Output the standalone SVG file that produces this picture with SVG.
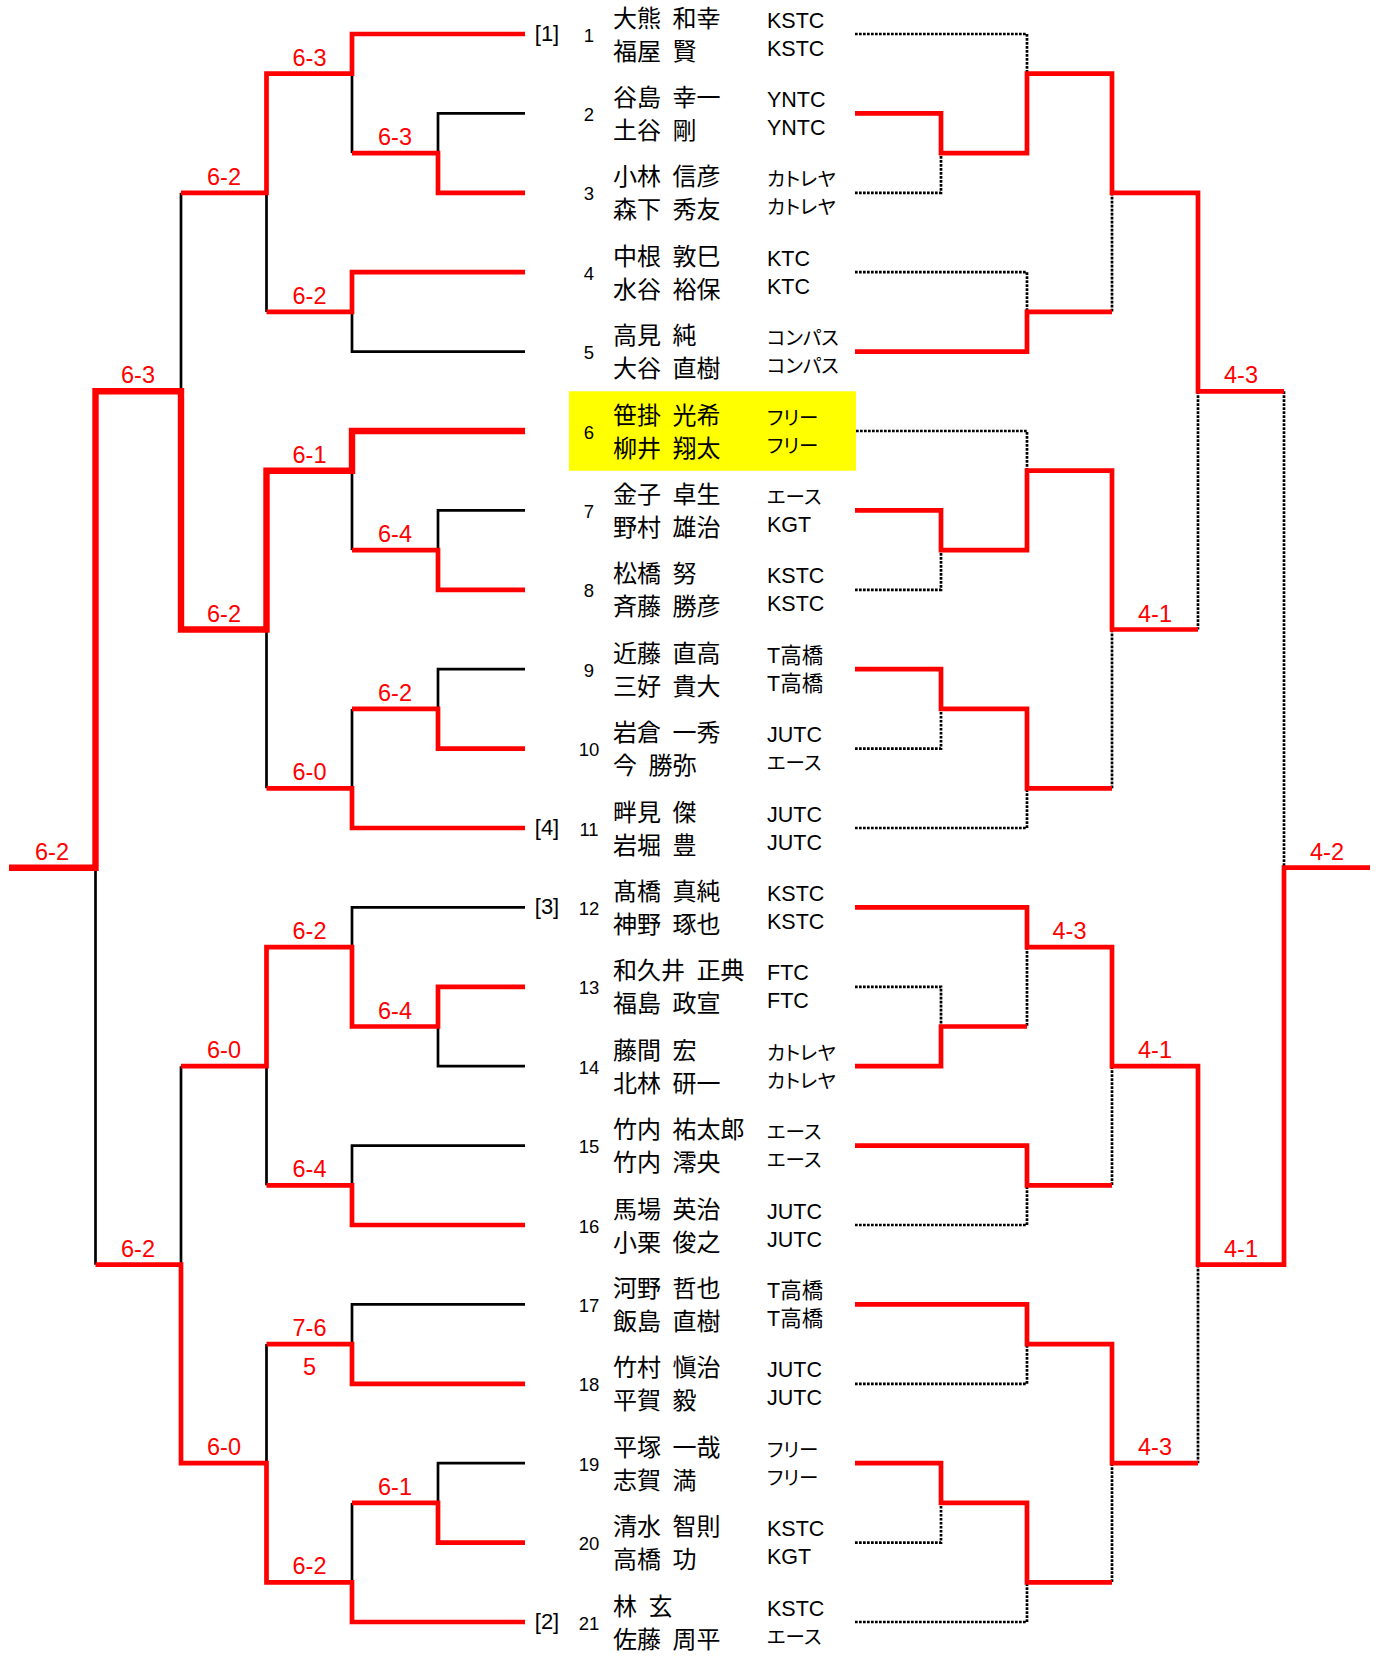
<svg xmlns="http://www.w3.org/2000/svg" width="1378" height="1656" viewBox="0 0 1378 1656">
<style>
.k{fill:none;stroke:#000;stroke-width:2.7}
.d{fill:none;stroke:#000;stroke-width:2.7;stroke-dasharray:2.7 1.3}
.r{fill:none;stroke:#FF0000;stroke-width:4.7}
.w{fill:none;stroke:#FF0000;stroke-width:6.4}
.s{font-family:"Liberation Sans",sans-serif;font-size:23.5px;fill:#FF0000;text-anchor:middle}
.num{font-family:"Liberation Sans",sans-serif;font-size:18.5px;text-anchor:middle;fill:#000}
.seed{font-family:"Liberation Sans",sans-serif;font-size:22px;text-anchor:middle;fill:#000}
.nm{font-family:"Noto Sans CJK JP",sans-serif;font-size:24px;word-spacing:6px;fill:#000}
.cl{font-family:"Liberation Sans","Noto Sans CJK JP",sans-serif;font-size:21.5px;fill:#000}
.kn{font-family:"Noto Sans CJK JP",sans-serif;font-size:19.5px;font-feature-settings:"palt";fill:#000}
</style>
<rect x="0" y="0" width="1378" height="1656" fill="#FFFFFF"/>
<rect id="highlight" x="569" y="391.3" width="287" height="79.4" fill="#FFFF00"/>

<g id="connectors">
<g id="black">
<path class="k" d="M525,113.4 H438 V153.1"/>
<path class="k" d="M352,73.7 V153.1"/>
<path class="k" d="M266.5,192.8 V311.9"/>
<path class="k" d="M525,351.6 H352 V311.9"/>
<path class="k" d="M181,192.8 V391.3"/>
<path class="k" d="M352,470.7 V550.1"/>
<path class="k" d="M525,510.4 H438 V550.1"/>
<path class="k" d="M266.5,629.5 V788.3"/>
<path class="k" d="M525,669.2 H438 V708.9"/>
<path class="k" d="M352,708.9 V788.3"/>
<path class="k" d="M95.5,867.7 V1264.7"/>
<path class="k" d="M525,907.4 H352 V947.1"/>
<path class="k" d="M525,1066.2 H438 V1026.5"/>
<path class="k" d="M266.5,1066.2 V1185.3"/>
<path class="k" d="M525,1145.6 H352 V1185.3"/>
<path class="k" d="M181,1066.2 V1264.7"/>
<path class="k" d="M525,1304.4 H352 V1344.1"/>
<path class="k" d="M266.5,1344.1 V1463.2"/>
<path class="k" d="M525,1463.2 H438 V1502.9"/>
<path class="k" d="M352,1502.9 V1582.3"/>
</g>
<g id="dotted">
<path class="d" d="M855,34 H1027 V73.7"/>
<path class="d" d="M855,192.8 H941 V153.1"/>
<path class="d" d="M855,272.2 H1027 V311.9"/>
<path class="d" d="M1112,192.8 V311.9"/>
<path class="d" d="M1198,391.3 V629.5"/>
<path class="d" d="M1284,391.3 V867.7"/>
<path class="d" d="M856,431 H1027 V470.7"/>
<path class="d" d="M855,589.8 H941 V550.1"/>
<path class="d" d="M855,748.6 H941 V708.9"/>
<path class="d" d="M855,828 H1027 V788.3"/>
<path class="d" d="M1112,629.5 V788.3"/>
<path class="d" d="M1027,947.1 V1026.5"/>
<path class="d" d="M855,986.8 H941 V1026.5"/>
<path class="d" d="M1112,1066.2 V1185.3"/>
<path class="d" d="M855,1225 H1027 V1185.3"/>
<path class="d" d="M1198,1264.7 V1463.2"/>
<path class="d" d="M855,1383.8 H1027 V1344.1"/>
<path class="d" d="M855,1542.6 H941 V1502.9"/>
<path class="d" d="M1112,1463.2 V1582.3"/>
<path class="d" d="M855,1622 H1027 V1582.3"/>
</g>
<g id="red">
<path class="r" d="M525,34 H352 V73.7 H266.5 V192.8 H181"/>
<path class="r" d="M525,192.8 H438 V153.1 H352"/>
<path class="r" d="M525,272.2 H352 V311.9 H266.5"/>
<path class="r" d="M525,589.8 H438 V550.1 H352"/>
<path class="r" d="M525,748.6 H438 V708.9 H352"/>
<path class="r" d="M525,828 H352 V788.3 H266.5"/>
<path class="r" d="M525,986.8 H438 V1026.5 H352 V947.1 H266.5 V1066.2 H181"/>
<path class="r" d="M525,1225 H352 V1185.3 H266.5"/>
<path class="r" d="M525,1383.8 H352 V1344.1 H266.5"/>
<path class="r" d="M525,1542.6 H438 V1502.9 H352"/>
<path class="r" d="M525,1622 H352 V1582.3 H266.5 V1463.2 H181 V1264.7 H95.5"/>
<path class="w" d="M525,431 H352 V470.7 H266.5 V629.5 H181 V391.3 H95.5 V867.7 H9"/>
<path class="r" d="M855,113.4 H941 V153.1 H1027 V73.7 H1112 V192.8 H1198 V391.3 H1284"/>
<path class="r" d="M855,351.6 H1027 V311.9 H1112"/>
<path class="r" d="M855,510.4 H941 V550.1 H1027 V470.7 H1112 V629.5 H1198"/>
<path class="r" d="M855,669.2 H941 V708.9 H1027 V788.3 H1112"/>
<path class="r" d="M855,907.4 H1027 V947.1 H1112 V1066.2 H1198 V1264.7 H1284 V867.7 H1370"/>
<path class="r" d="M855,1066.2 H941 V1026.5 H1027"/>
<path class="r" d="M855,1145.6 H1027 V1185.3 H1112"/>
<path class="r" d="M855,1304.4 H1027 V1344.1 H1112 V1463.2 H1198"/>
<path class="r" d="M855,1463.2 H941 V1502.9 H1027 V1582.3 H1112"/>
</g>
</g>

<g id="scores">
<text class="s" x="309.5" y="65.7">6-3</text>
<text class="s" x="395" y="145.1">6-3</text>
<text class="s" x="224" y="184.8">6-2</text>
<text class="s" x="309.5" y="303.9">6-2</text>
<text class="s" x="138" y="383.3">6-3</text>
<text class="s" x="309.5" y="462.7">6-1</text>
<text class="s" x="395" y="542.1">6-4</text>
<text class="s" x="224" y="621.5">6-2</text>
<text class="s" x="395" y="700.9">6-2</text>
<text class="s" x="309.5" y="780.3">6-0</text>
<text class="s" x="52" y="859.7">6-2</text>
<text class="s" x="309.5" y="939.1">6-2</text>
<text class="s" x="395" y="1018.5">6-4</text>
<text class="s" x="224" y="1058.2">6-0</text>
<text class="s" x="309.5" y="1177.3">6-4</text>
<text class="s" x="138" y="1256.7">6-2</text>
<text class="s" x="309.5" y="1336.1">7-6</text>
<text class="s" x="309.5" y="1375">5</text>
<text class="s" x="224" y="1455.2">6-0</text>
<text class="s" x="395" y="1494.9">6-1</text>
<text class="s" x="309.5" y="1574.3">6-2</text>
<text class="s" x="1241" y="383.3">4-3</text>
<text class="s" x="1155" y="621.5">4-1</text>
<text class="s" x="1327" y="859.7">4-2</text>
<text class="s" x="1069.5" y="939.1">4-3</text>
<text class="s" x="1155" y="1058.2">4-1</text>
<text class="s" x="1241" y="1256.7">4-1</text>
<text class="s" x="1155" y="1455.2">4-3</text>
</g>

<g id="p1"><text class="seed" x="547" y="40.5">[1]</text><text class="num" x="589" y="41.5">1</text><text class="nm" x="613" y="26.5">大熊 和幸</text><text class="nm" x="613" y="59.5">福屋 賢</text><text class="cl" x="767" y="27.5">KSTC</text><text class="cl" x="767" y="55.5">KSTC</text></g>
<g id="p2"><text class="num" x="589" y="120.9">2</text><text class="nm" x="613" y="105.9">谷島 幸一</text><text class="nm" x="613" y="138.9">土谷 剛</text><text class="cl" x="767" y="106.9">YNTC</text><text class="cl" x="767" y="134.9">YNTC</text></g>
<g id="p3"><text class="num" x="589" y="200.3">3</text><text class="nm" x="613" y="185.3">小林 信彦</text><text class="nm" x="613" y="218.3">森下 秀友</text><text class="kn" x="767" y="186.3">カトレヤ</text><text class="kn" x="767" y="214.3">カトレヤ</text></g>
<g id="p4"><text class="num" x="589" y="279.7">4</text><text class="nm" x="613" y="264.7">中根 敦巳</text><text class="nm" x="613" y="297.7">水谷 裕保</text><text class="cl" x="767" y="265.7">KTC</text><text class="cl" x="767" y="293.7">KTC</text></g>
<g id="p5"><text class="num" x="589" y="359.1">5</text><text class="nm" x="613" y="344.1">高見 純</text><text class="nm" x="613" y="377.1">大谷 直樹</text><text class="kn" x="767" y="345.1">コンパス</text><text class="kn" x="767" y="373.1">コンパス</text></g>
<g id="p6"><text class="num" x="589" y="438.5">6</text><text class="nm" x="613" y="423.5">笹掛 光希</text><text class="nm" x="613" y="456.5">柳井 翔太</text><text class="kn" x="767" y="424.5">フリー</text><text class="kn" x="767" y="452.5">フリー</text></g>
<g id="p7"><text class="num" x="589" y="517.9">7</text><text class="nm" x="613" y="502.9">金子 卓生</text><text class="nm" x="613" y="535.9">野村 雄治</text><text class="kn" x="767" y="503.9">エース</text><text class="cl" x="767" y="531.9">KGT</text></g>
<g id="p8"><text class="num" x="589" y="597.3">8</text><text class="nm" x="613" y="582.3">松橋 努</text><text class="nm" x="613" y="615.3">斉藤 勝彦</text><text class="cl" x="767" y="583.3">KSTC</text><text class="cl" x="767" y="611.3">KSTC</text></g>
<g id="p9"><text class="num" x="589" y="676.7">9</text><text class="nm" x="613" y="661.7">近藤 直高</text><text class="nm" x="613" y="694.7">三好 貴大</text><text class="cl" x="767" y="662.7">T高橋</text><text class="cl" x="767" y="690.7">T高橋</text></g>
<g id="p10"><text class="num" x="589" y="756.1">10</text><text class="nm" x="613" y="741.1">岩倉 一秀</text><text class="nm" x="613" y="774.1">今 勝弥</text><text class="cl" x="767" y="742.1">JUTC</text><text class="kn" x="767" y="770.1">エース</text></g>
<g id="p11"><text class="seed" x="547" y="834.5">[4]</text><text class="num" x="589" y="835.5">11</text><text class="nm" x="613" y="820.5">畔見 傑</text><text class="nm" x="613" y="853.5">岩堀 豊</text><text class="cl" x="767" y="821.5">JUTC</text><text class="cl" x="767" y="849.5">JUTC</text></g>
<g id="p12"><text class="seed" x="547" y="913.9">[3]</text><text class="num" x="589" y="914.9">12</text><text class="nm" x="613" y="899.9">髙橋 真純</text><text class="nm" x="613" y="932.9">神野 琢也</text><text class="cl" x="767" y="900.9">KSTC</text><text class="cl" x="767" y="928.9">KSTC</text></g>
<g id="p13"><text class="num" x="589" y="994.3">13</text><text class="nm" x="613" y="979.3">和久井 正典</text><text class="nm" x="613" y="1012.3">福島 政宣</text><text class="cl" x="767" y="980.3">FTC</text><text class="cl" x="767" y="1008.3">FTC</text></g>
<g id="p14"><text class="num" x="589" y="1073.7">14</text><text class="nm" x="613" y="1058.7">藤間 宏</text><text class="nm" x="613" y="1091.7">北林 研一</text><text class="kn" x="767" y="1059.7">カトレヤ</text><text class="kn" x="767" y="1087.7">カトレヤ</text></g>
<g id="p15"><text class="num" x="589" y="1153.1">15</text><text class="nm" x="613" y="1138.1">竹内 祐太郎</text><text class="nm" x="613" y="1171.1">竹内 澪央</text><text class="kn" x="767" y="1139.1">エース</text><text class="kn" x="767" y="1167.1">エース</text></g>
<g id="p16"><text class="num" x="589" y="1232.5">16</text><text class="nm" x="613" y="1217.5">馬場 英治</text><text class="nm" x="613" y="1250.5">小栗 俊之</text><text class="cl" x="767" y="1218.5">JUTC</text><text class="cl" x="767" y="1246.5">JUTC</text></g>
<g id="p17"><text class="num" x="589" y="1311.9">17</text><text class="nm" x="613" y="1296.9">河野 哲也</text><text class="nm" x="613" y="1329.9">飯島 直樹</text><text class="cl" x="767" y="1297.9">T高橋</text><text class="cl" x="767" y="1325.9">T高橋</text></g>
<g id="p18"><text class="num" x="589" y="1391.3">18</text><text class="nm" x="613" y="1376.3">竹村 愼治</text><text class="nm" x="613" y="1409.3">平賀 毅</text><text class="cl" x="767" y="1377.3">JUTC</text><text class="cl" x="767" y="1405.3">JUTC</text></g>
<g id="p19"><text class="num" x="589" y="1470.7">19</text><text class="nm" x="613" y="1455.7">平塚 一哉</text><text class="nm" x="613" y="1488.7">志賀 満</text><text class="kn" x="767" y="1456.7">フリー</text><text class="kn" x="767" y="1484.7">フリー</text></g>
<g id="p20"><text class="num" x="589" y="1550.1">20</text><text class="nm" x="613" y="1535.1">清水 智則</text><text class="nm" x="613" y="1568.1">高橋 功</text><text class="cl" x="767" y="1536.1">KSTC</text><text class="cl" x="767" y="1564.1">KGT</text></g>
<g id="p21"><text class="seed" x="547" y="1628.5">[2]</text><text class="num" x="589" y="1629.5">21</text><text class="nm" x="613" y="1614.5">林 玄</text><text class="nm" x="613" y="1647.5">佐藤 周平</text><text class="cl" x="767" y="1615.5">KSTC</text><text class="kn" x="767" y="1643.5">エース</text></g>
</svg>
